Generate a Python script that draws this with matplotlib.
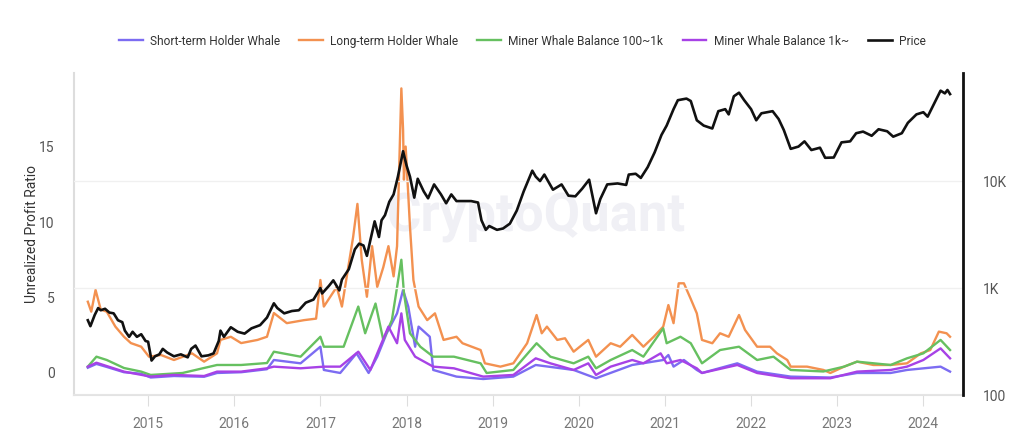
import numpy as np
import matplotlib.pyplot as plt
from matplotlib.ticker import FixedLocator, FuncFormatter

plt.rcParams['font.family'] = ['Roboto', 'DejaVu Sans']

# ── Data (decimal years) ─────────────────────────────────────────────────────
sth_x = [2014.30, 2014.40, 2014.52, 2014.72, 2014.92, 2015.03, 2015.30, 2015.65, 2015.80,
         2016.08, 2016.38, 2016.46, 2016.77, 2017.00, 2017.04, 2017.23, 2017.42, 2017.56,
         2017.66, 2017.77, 2017.89, 2017.96, 2018.02, 2018.10, 2018.14, 2018.27, 2018.31,
         2018.58, 2018.89, 2019.24, 2019.50, 2019.94, 2020.20, 2020.62, 2020.98, 2021.04,
         2021.10, 2021.22, 2021.37, 2021.43, 2021.84, 2022.07, 2022.46, 2022.92, 2023.23,
         2023.62, 2023.81, 2024.20, 2024.31]
sth_y = [0.35, 0.60, 0.40, 0.05, -0.05, -0.30, -0.20, -0.25, 0.00, 0.05, 0.25, 0.86, 0.64,
         1.74, 0.20, 0.00, 1.30, 0.00, 1.08, 2.63, 3.95, 5.50, 4.40, 1.74, 3.07, 2.40, 0.20,
         -0.24, -0.40, -0.24, 0.53, 0.20, -0.35, 0.53, 0.86, 1.19, 0.42, 0.86, 0.20, 0.00,
         0.64, 0.09, -0.24, -0.30, 0.00, 0.00, 0.20, 0.42, 0.09]

lth_x = [2014.30, 2014.34, 2014.39, 2014.45, 2014.52, 2014.62, 2014.72, 2014.80, 2014.92,
         2015.01, 2015.15, 2015.30, 2015.51, 2015.65, 2015.80, 2015.84, 2015.96, 2016.08,
         2016.27, 2016.38, 2016.46, 2016.61, 2016.81, 2016.95, 2017.00, 2017.04, 2017.19,
         2017.25, 2017.38, 2017.43, 2017.48, 2017.54, 2017.60, 2017.66, 2017.73, 2017.79,
         2017.85, 2017.89, 2017.94, 2017.96, 2017.97, 2017.99, 2018.04, 2018.08, 2018.14,
         2018.24, 2018.33, 2018.43, 2018.58, 2018.65, 2018.86, 2018.91, 2019.09, 2019.24,
         2019.40, 2019.51, 2019.57, 2019.63, 2019.75, 2019.84, 2019.94, 2020.11, 2020.20,
         2020.37, 2020.48, 2020.62, 2020.75, 2020.87, 2020.98, 2021.04, 2021.10, 2021.16,
         2021.22, 2021.30, 2021.37, 2021.43, 2021.55, 2021.64, 2021.74, 2021.86, 2021.93,
         2022.07, 2022.22, 2022.30, 2022.42, 2022.46, 2022.65, 2022.84, 2022.92, 2023.08,
         2023.23, 2023.42, 2023.62, 2023.81, 2023.97, 2024.08, 2024.18, 2024.27, 2024.31]
lth_y = [4.72, 4.06, 5.50, 4.20, 4.06, 3.07, 2.40, 1.98, 1.74, 1.08, 1.19, 0.86, 1.30, 0.75,
         1.30, 2.19, 2.40, 1.98, 2.19, 2.40, 3.97, 3.30, 3.50, 3.60, 6.16, 4.40, 5.70, 4.40,
         9.00, 11.20, 7.50, 5.05, 8.40, 5.70, 7.00, 8.40, 6.40, 8.40, 18.85, 16.10, 12.80,
         15.00, 9.70, 6.16, 4.40, 3.50, 3.95, 2.19, 2.40, 1.97, 1.52, 0.64, 0.42, 0.64, 1.97,
         3.84, 2.63, 3.07, 2.19, 2.30, 1.41, 2.19, 1.08, 1.97, 1.74, 2.52, 1.74, 2.40, 3.07,
         4.50, 3.30, 5.94, 5.94, 4.90, 3.95, 2.19, 1.97, 2.63, 2.40, 3.84, 2.85, 1.74, 1.74,
         1.30, 0.86, 0.42, 0.42, 0.20, 0.00, 0.42, 0.75, 0.53, 0.53, 0.64, 1.30, 1.52, 2.74,
         2.63, 2.40]

m100_x = [2014.30, 2014.40, 2014.52, 2014.72, 2014.92, 2015.03, 2015.40, 2015.80, 2016.08,
          2016.38, 2016.46, 2016.77, 2017.00, 2017.04, 2017.27, 2017.44, 2017.52, 2017.64,
          2017.73, 2017.83, 2017.94, 2017.97, 2018.04, 2018.16, 2018.31, 2018.55, 2018.86,
          2018.93, 2019.24, 2019.51, 2019.67, 2019.94, 2020.11, 2020.20, 2020.37, 2020.62,
          2020.75, 2020.98, 2021.02, 2021.18, 2021.30, 2021.43, 2021.64, 2021.86, 2022.07,
          2022.26, 2022.46, 2022.84, 2023.08, 2023.23, 2023.62, 2023.81, 2024.00, 2024.20,
          2024.31]
m100_y = [0.42, 1.08, 0.86, 0.33, 0.09, -0.13, 0.00, 0.53, 0.53, 0.66, 1.41, 1.08, 2.40,
          1.74, 1.74, 4.40, 2.63, 4.60, 2.19, 3.50, 7.50, 5.30, 2.63, 1.74, 1.08, 1.08, 0.64,
          0.00, 0.20, 1.97, 1.08, 0.64, 1.08, 0.31, 0.86, 1.52, 1.08, 2.96, 1.97, 2.40, 1.97,
          0.64, 1.52, 1.74, 0.86, 1.08, 0.20, 0.10, 0.42, 0.75, 0.53, 0.97, 1.30, 2.19, 1.52]

m1k_x = [2014.30, 2014.40, 2014.72, 2015.03, 2015.30, 2015.65, 2015.80, 2016.08, 2016.38,
         2016.46, 2016.77, 2017.04, 2017.23, 2017.44, 2017.58, 2017.79, 2017.89, 2017.94,
         2017.98, 2018.10, 2018.31, 2018.55, 2018.89, 2019.24, 2019.50, 2019.67, 2019.94,
         2020.11, 2020.20, 2020.37, 2020.62, 2020.75, 2020.95, 2021.02, 2021.18, 2021.37,
         2021.43, 2021.84, 2022.07, 2022.46, 2022.92, 2023.23, 2023.62, 2023.81, 2024.00,
         2024.20, 2024.31]
m1k_y = [0.42, 0.68, 0.09, -0.24, -0.13, -0.20, 0.09, 0.09, 0.31, 0.42, 0.31, 0.42, 0.42,
         1.41, 0.20, 3.07, 1.97, 3.95, 2.19, 1.08, 0.42, 0.31, -0.24, -0.13, 0.97, 0.64, 0.20,
         0.64, -0.13, 0.42, 0.86, 0.64, 1.30, 0.64, 0.86, 0.31, 0.00, 0.53, 0.00, -0.35,
         -0.35, 0.09, 0.20, 0.42, 0.86, 1.63, 0.97]

price_x = [2014.30, 2014.33, 2014.38, 2014.42, 2014.45, 2014.50, 2014.55, 2014.60, 2014.65,
           2014.70, 2014.73, 2014.78, 2014.82, 2014.87, 2014.92, 2014.97, 2015.00, 2015.04,
           2015.08, 2015.13, 2015.17, 2015.22, 2015.30, 2015.38, 2015.46, 2015.50, 2015.55,
           2015.62, 2015.70, 2015.76, 2015.82, 2015.84, 2015.88, 2015.96, 2016.04, 2016.12,
           2016.20, 2016.30, 2016.38, 2016.46, 2016.50, 2016.58, 2016.67, 2016.75, 2016.83,
           2016.92, 2017.00, 2017.02, 2017.10, 2017.15, 2017.22, 2017.25, 2017.33, 2017.40,
           2017.45, 2017.50, 2017.54, 2017.58, 2017.63, 2017.68, 2017.71, 2017.75, 2017.80,
           2017.85, 2017.90, 2017.96, 2018.00, 2018.04, 2018.09, 2018.13, 2018.20, 2018.25,
           2018.32, 2018.40, 2018.46, 2018.52, 2018.58, 2018.66, 2018.75, 2018.83, 2018.87,
           2018.92, 2018.96, 2019.05, 2019.12, 2019.20, 2019.28, 2019.36, 2019.46, 2019.50,
           2019.55, 2019.60, 2019.70, 2019.80, 2019.88, 2019.96, 2020.04, 2020.12, 2020.20,
           2020.25, 2020.33, 2020.45, 2020.55, 2020.58, 2020.66, 2020.72, 2020.80, 2020.88,
           2020.96, 2021.02, 2021.10, 2021.15, 2021.25, 2021.30, 2021.37, 2021.45, 2021.55,
           2021.62, 2021.70, 2021.74, 2021.80, 2021.86, 2021.92, 2022.00, 2022.06, 2022.12,
           2022.25, 2022.32, 2022.38, 2022.46, 2022.55, 2022.62, 2022.70, 2022.80, 2022.86,
           2022.96, 2023.05, 2023.15, 2023.22, 2023.30, 2023.40, 2023.48, 2023.58, 2023.65,
           2023.75, 2023.82, 2023.92, 2024.00, 2024.05, 2024.12, 2024.20, 2024.25, 2024.28,
           2024.31]
price_y = [500, 440, 560, 650, 620, 640, 590, 580, 500, 480, 400, 350, 390, 350, 370, 320,
           315, 210, 230, 240, 270, 250, 230, 240, 225, 270, 290, 230, 235, 245, 320, 400,
           350, 430, 390, 375, 420, 450, 530, 720, 650, 580, 610, 620, 730, 780, 1000, 890,
           1050, 1180, 950, 1200, 1500, 2300, 2600, 2500, 2000, 2800, 4200, 3000, 4300, 4800,
           6400, 7500, 11000, 19000, 14000, 11000, 7000, 10500, 8000, 6900, 9300, 7500, 6200,
           7500, 6500, 6500, 6500, 6300, 4300, 3500, 3800, 3500, 3600, 4000, 5300, 8000,
           12500, 11000, 10000, 11500, 8300, 9300, 7300, 7200, 8500, 10300, 5000, 6800, 9300,
           9500, 9200, 11500, 11700, 10700, 13500, 18500, 27000, 33000, 47000, 57000, 59000,
           56000, 37000, 33000, 31000, 45000, 47000, 42000, 62000, 67000, 57000, 47000, 37000,
           43000, 45000, 38000, 30000, 20000, 21000, 23500, 19500, 20500, 16500, 16600, 23000,
           23500, 28000, 29000, 26500, 30500, 29200, 26000, 28000, 35000, 42000, 44000, 40000,
           52000, 70000, 66000, 71000, 65000]

YEARS = list(range(2015, 2025))

# ── Figure ────────────────────────────────────────────────────────────────────
fig = plt.figure(figsize=(10.24, 4.46), dpi=100)
ax = fig.add_axes([0.0723, 0.1143, 0.8681, 0.722])

ax.plot(sth_x, sth_y, color="#7c6cf2", lw=1.7, label="Short-term Holder Whale")
ax.plot(lth_x, lth_y, color="#f39150", lw=1.7, label="Long-term Holder Whale")
ax.plot(m100_x, m100_y, color="#66c060", lw=1.7, label="Miner Whale Balance 100~1k")
ax.plot(m1k_x, m1k_y, color="#a742e6", lw=1.7, label="Miner Whale Balance 1k~")

ax.set_xlim(2014.14, 2024.46)
ax.set_ylim(-1.46, 19.87)
ax.set_yticks([0, 5, 10, 15])
ax.set_xticks(YEARS)
ax.set_xticklabels([str(y) for y in YEARS])
ax.set_ylabel("Unrealized Profit Ratio", fontsize=10, color="#333333")
ax.yaxis.set_label_coords(-0.039, 0.5)
ax.tick_params(axis="y", length=0, labelsize=10, labelcolor="#555555", pad=14)
ax.tick_params(axis="x", length=8, color="#dddddd", labelsize=10, labelcolor="#777777", pad=8)
for s in ["top", "right"]:
    ax.spines[s].set_visible(False)
ax.spines["left"].set_color("#dddddd")
ax.spines["left"].set_linewidth(1.5)
ax.spines["bottom"].set_color("#e3e3e3")
ax.spines["bottom"].set_linewidth(1.5)

ax.text(0.52, 0.55, "CryptoQuant", transform=ax.transAxes, ha="center", va="center",
        fontsize=38, color="#f0f0f5", fontweight="bold", zorder=0)

# price on log axis
ax2 = ax.twinx()
ax2.plot(price_x, price_y, color="#111111", lw=1.9, label="Price")
ax2.set_yscale("log")
ax2.set_ylim(100, 10 ** 5.01)
ax2.yaxis.set_major_locator(FixedLocator([100, 1000, 10000]))
ax2.yaxis.set_minor_locator(FixedLocator([]))
ax2.yaxis.set_major_formatter(FuncFormatter(
    lambda v, _: {100: "100", 1000: "1K", 10000: "10K"}.get(int(round(v)), "")))
ax2.tick_params(axis="y", length=0, labelsize=10, labelcolor="#555555", pad=14)
ax2.grid(axis="y", color="#f0f0f0", lw=1)
ax2.set_axisbelow(True)
for s in ["top", "left", "bottom"]:
    ax2.spines[s].set_visible(False)
ax2.spines["right"].set_color("#111111")
ax2.spines["right"].set_linewidth(2)

h1, l1 = ax.get_legend_handles_labels()
h2, l2 = ax2.get_legend_handles_labels()
fig.legend(h1 + h2, l1 + l2, loc="center", bbox_to_anchor=(0.51, 0.908), ncol=5,
           frameon=False, fontsize=8.6, handlelength=2.0, columnspacing=1.6,
           handletextpad=0.6, labelcolor="#333333")

fig.savefig("out.png", dpi=100)
